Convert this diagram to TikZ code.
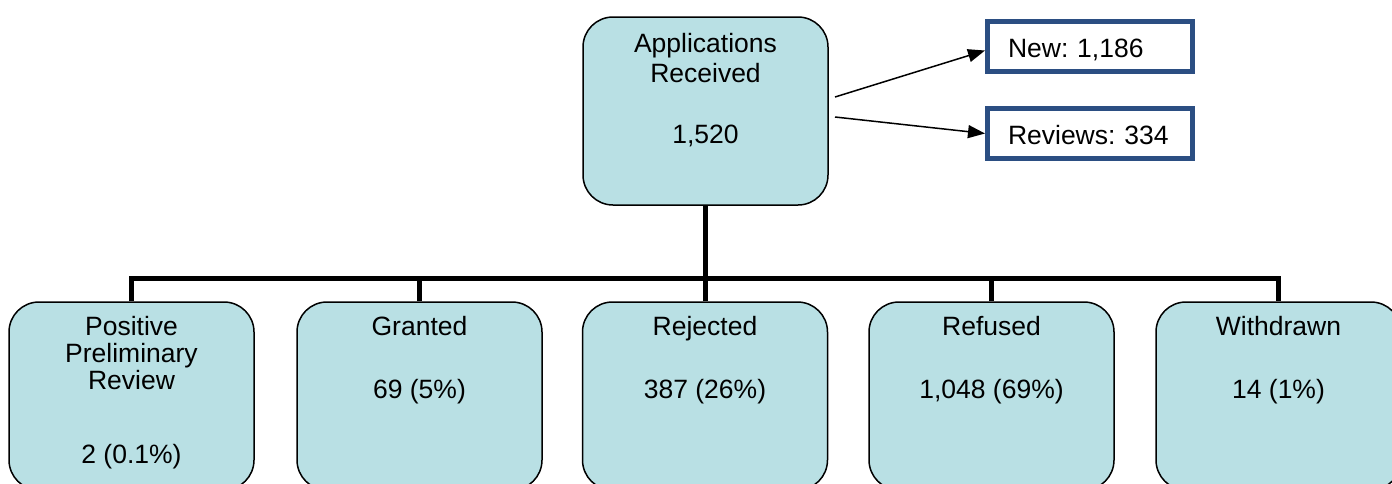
\documentclass[tikz,border=0pt]{standalone}
\usepackage{fontspec}
\setmainfont{Liberation Sans}
\frenchspacing
\usetikzlibrary{arrows.meta,calc}
\definecolor{boxfill}{RGB}{185,224,228}
\definecolor{navyline}{RGB}{43,78,130}
\begin{document}
\begin{tikzpicture}[x=1pt,y=-1pt,
  orgbox/.style={draw=black,line width=1.5pt,fill=boxfill,rounded corners=30pt,
    minimum width=245pt,minimum height=188pt,inner sep=0pt},
  txt/.style={font=\fontsize{26.5}{30}\selectfont,align=center,inner sep=0pt,anchor=north},
  sidebox/.style={draw=navyline,line width=5pt,fill=white,minimum width=205pt,minimum height=50pt,
    inner xsep=20.5pt,inner ysep=0pt,text width=164pt,align=left,
    font=\fontsize{26.5}{30}\selectfont,text height=21pt,text depth=0pt},
  bus/.style={draw=black,line width=5pt,line join=miter},
  arr/.style={draw=black,line width=1.5pt,-{Triangle[length=17pt,width=13pt]}}
]
\useasboundingbox (0,0) rectangle (1392,483);

% top box
\node[orgbox] (top) at (705.5,111) {};
\node[txt] (toptxt) at (705.5,32.7) {Applications\\Received\\[31pt]1,520};

% side boxes
\node[sidebox] (new) at (1090,46.5) {New: 1,186};
\node[sidebox] (rev) at (1090,133.5) {Reviews: 334};
\coordinate (s1) at (835,97);
\coordinate (s2) at (835,117);
\draw[arr] (s1) -- ($(new.west)+(0,4)$);
\draw[arr] (s2) -- (rev.west);

% bottom boxes
\node[orgbox] (b1) at (131.5,396) {};
\node[orgbox] (b2) at (419.5,396) {};
\node[orgbox] (b3) at (705,396) {};
\node[orgbox] (b4) at (991.5,396) {};
\node[orgbox] (b5) at (1278.5,396) {};

\node[txt,font=\fontsize{26.5}{27}\selectfont] (t1) at (131.5,315.7) {Positive\\Preliminary\\Review\\[47pt]2 (0.1\%)};
\node[txt] (t2) at (419.5,315.7) {Granted\\[33pt]69 (5\%)};
\node[txt] (t3) at (705,315.7) {Rejected\\[33pt]387 (26\%)};
\node[txt] (t4) at (991.5,315.7) {Refused\\[33pt]1,048 (69\%)};
\node[txt] (t5) at (1278.5,315.7) {Withdrawn\\[33pt]14 (1\%)};

% bus connectors
\coordinate (bus) at (0,278);
\draw[bus] (top.south) -- (top.south |- bus);
\draw[bus] (b1.north) -- (b1.north |- bus) -- (b5.north |- bus) -- (b5.north);
\draw[bus] (b2.north) -- (b2.north |- bus);
\draw[bus] (b3.north) -- (b3.north |- bus);
\draw[bus] (b4.north) -- (b4.north |- bus);
\end{tikzpicture}
\end{document}
